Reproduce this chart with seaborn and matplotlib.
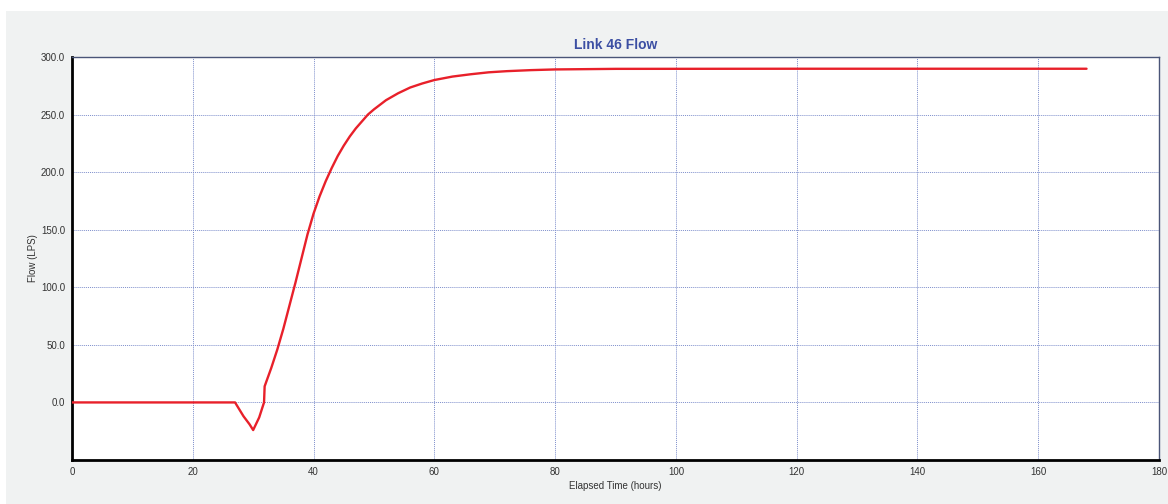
import matplotlib
matplotlib.use("Agg")
import matplotlib.pyplot as plt
import seaborn as sns
import pandas as pd
from matplotlib.patches import Rectangle

hours = [0, 27, 28.4, 29.4, 30, 31, 31.8, 31.9, 33, 34, 35, 36, 37, 38, 39, 40,
         41, 42, 43, 44, 45, 46, 47, 48, 49, 50, 52, 54, 56, 58, 60, 63, 66, 69,
         72, 76, 80, 90, 120, 168]
flow = [0, 0, -12, -19, -24, -13, 0, 14, 30, 46, 64, 84, 104, 125, 146, 164,
        179, 192, 203.5, 214, 223, 231, 238, 244, 250, 254.5, 262.5, 268.5, 273.5, 277, 280, 283, 285, 286.7,
        287.7, 288.6, 289.2, 289.7, 289.8, 289.8]
x_ticks = list(range(0, 181, 20))
y_ticks = list(range(0, 301, 50))

df = pd.DataFrame({"Elapsed Time (hours)": hours, "Flow (LPS)": flow})

sns.set_style("white")
plt.rcParams['font.family'] = ['Liberation Sans', 'DejaVu Sans']

fig = plt.figure(figsize=(11.68, 5.04), dpi=100, facecolor="#f0f2f2")
# white strips at the left and top edges
fig.patches.append(Rectangle((0, 0), 6 / 1168, 1, transform=fig.transFigure,
                             facecolor="white", edgecolor="none", zorder=-5))
fig.patches.append(Rectangle((0, 1 - 11 / 504), 1, 11 / 504, transform=fig.transFigure,
                             facecolor="white", edgecolor="none", zorder=-5))
ax = fig.add_axes([72 / 1168, 1 - 460 / 504, (1159 - 72) / 1168, (460 - 57) / 504])
ax.set_zorder(5)
ax.set_facecolor("white")

sns.lineplot(data=df, x="Elapsed Time (hours)", y="Flow (LPS)", ax=ax,
             color="#e8202a", linewidth=1.7, zorder=3)

ax.set_xlim(0, 180)
ax.set_ylim(-50, 300)
ax.set_xticks(x_ticks)
ax.set_yticks(y_ticks)
ax.set_xticklabels([str(t) for t in x_ticks])
ax.set_yticklabels([f"{t:.1f}" for t in y_ticks])
ax.tick_params(axis="both", labelsize=7, length=3, width=0.6,
               direction="out", pad=2, colors="#8a8fa8", labelcolor="#333333")

ax.grid(True, color="#7f8fcc", linestyle=(0, (1, 1)), linewidth=0.7, zorder=1)

for s in ["left", "bottom"]:
    ax.spines[s].set_color("black")
    ax.spines[s].set_linewidth(2.0)
for s in ["top", "right"]:
    ax.spines[s].set_color("#4a5578")
    ax.spines[s].set_linewidth(1.0)

ax.set_title("Link 46 Flow", fontsize=10, fontweight="bold", color="#3c4fa3", pad=6)
ax.set_xlabel("Elapsed Time (hours)", fontsize=7, color="#333333", labelpad=3)
ax.set_ylabel("Flow (LPS)", fontsize=7, color="#333333", labelpad=2)

fig.savefig("out.png", dpi=100, facecolor=fig.get_facecolor())
